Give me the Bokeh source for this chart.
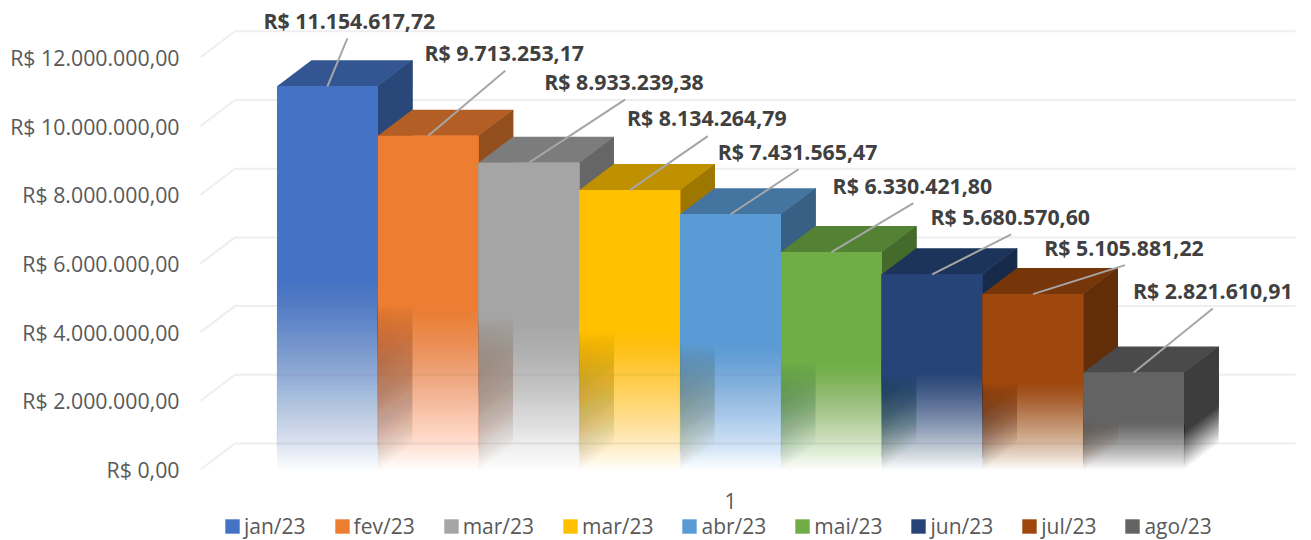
from bokeh.plotting import figure
from bokeh.models import Range1d, FixedTicker, Legend, LegendItem
from bokeh.core.properties import value
from bokeh.embed import file_html
from bokeh.resources import INLINE

# ---- data
months = ["jan/23", "fev/23", "mar/23", "mar/23", "abr/23", "mai/23", "jun/23", "jul/23", "ago/23"]
amounts = [11154617.72, 9713253.17, 8933239.38, 8134264.79, 7431565.47, 6330421.80, 5680570.60, 5105881.22, 2821610.91]
colors = ["#4472C4", "#ED7D31", "#A5A5A5", "#FFC000", "#5B9BD5", "#70AD47", "#264478", "#9E480E", "#636363"]
y_ticks = [0, 2000000, 4000000, 6000000, 8000000, 10000000, 12000000]

# ---- layout: offsets of label and leader end from the bar's top edge, in px
label_dx = [22, 76, 95, 77, 67, 81, 78, 91, 79]
label_dy = [66, 83, 81, 73, 63, 67, 58, 47, 82]
leader_dx = [20, 77, 96, 78, 68, 82, 79, 92, 79]
leader_dy = [48, 65, 63, 54, 45, 49, 40, 29, 64]
swatch_px = [225, 334, 444, 563, 682, 795, 911, 1021, 1125]

FONT = "Open Sans"
W, H = 1311, 540
PX_X = 100.8            # px per bar slot
PX_Y = 34.35 / 1e6      # px per real
BASE_PX, LEFT_PX = 469, 276.5   # page position of value 0 / of first bar
FRAME_L, FRAME_R = 198, 1300
DEPTH_X, DEPTH_Y = 34.5 / PX_X, 26 / PX_Y


def page_x(px):
    return (px - LEFT_PX) / PX_X


def page_y(px):
    return (BASE_PX - px) / PX_Y


def brl(v):
    s = f"{v:,.2f}"
    return "R$ " + s.replace(",", "#").replace(".", ",").replace("#", ".")


def shade(hex_color, f):
    c = [int(hex_color[i:i + 2], 16) for i in (1, 3, 5)]
    return "#%02x%02x%02x" % tuple(int(round(v * f)) for v in c)


def layer_alphas(n, gamma=1.0):
    """Alphas of n stacked layers so that the stack of k+1 reaches ((k+1)/n)**gamma."""
    out, prev = [], 0.0
    for k in range(n):
        a = ((k + 1) / n) ** gamma
        out.append(1.0 if a >= 1 else 1 - (1 - a) / (1 - prev))
        prev = a
    return out


p = figure(width=W, height=H, output_backend="svg", toolbar_location=None,
           x_range=Range1d(page_x(FRAME_L), page_x(FRAME_R)),
           y_range=Range1d(page_y(H), page_y(0)),
           min_border_left=FRAME_L, min_border_right=W - FRAME_R,
           min_border_top=0, min_border_bottom=0,
           outline_line_color=None)
p.grid.visible = False

# axes
p.yaxis.ticker = FixedTicker(ticks=y_ticks)
p.yaxis.major_label_overrides = {t: brl(t) for t in y_ticks}
p.yaxis.axis_line_color = None
p.yaxis.major_tick_line_color = None
p.yaxis.minor_tick_line_color = None
p.yaxis.major_label_standoff = 13
p.yaxis.major_label_text_font = FONT
p.yaxis.major_label_text_font_size = "21.3px"
p.yaxis.major_label_text_color = "#595959"

center = len(months) / 2
p.xaxis.ticker = FixedTicker(ticks=[center])
p.xaxis.major_label_overrides = {center: "1"}
p.xaxis.axis_line_color = None
p.xaxis.major_tick_line_color = None
p.xaxis.minor_tick_line_color = None
p.xaxis.major_label_standoff = 0
p.xaxis.major_label_text_font = FONT
p.xaxis.major_label_text_font_size = "21px"
p.xaxis.major_label_text_color = "#595959"
p.xaxis.fixed_location = page_y(486)

# grid of the back wall and the side wall
x_left, x_right = page_x(200), page_x(1295)
p.multi_line([[x_left, x_left + DEPTH_X, x_right] for t in y_ticks],
             [[t, t + DEPTH_Y, t + DEPTH_Y] for t in y_ticks],
             line_color="#EEEEEE", line_width=2)

legend_items = []
for i, (amount, col) in enumerate(zip(amounts, colors)):
    x0, x1 = i, i + 1

    # side wall: stacked translucent polygons, alpha adds up towards the top
    n = 40
    heights = [(k / n) * 0.4 * amount for k in range(n)]
    p.patches([[x1, x1, x1 + DEPTH_X, x1 + DEPTH_X] for h in heights],
              [[h, amount, amount + DEPTH_Y, h + DEPTH_Y] for h in heights],
              fill_color=shade(col, 0.62), fill_alpha=layer_alphas(n), line_color=None)

    # top face
    p.patches([[x0, x1, x1 + DEPTH_X, x0 + DEPTH_X]],
              [[amount, amount, amount + DEPTH_Y, amount + DEPTH_Y]],
              fill_color=shade(col, 0.75), line_color=None)

    # front face: stacked layers fading to the floor, solid in the upper half
    n = 48
    heights = [(k / n) * 0.5 * amount for k in range(n)]
    alphas = layer_alphas(n, 0.9)
    p.quad(left=x0, right=x1, bottom=heights[:-1], top=amount, fill_color=col,
           fill_alpha=alphas[:-1], line_color=None)
    solid = p.quad(left=[x0], right=[x1], bottom=[heights[-1]], top=[amount], fill_color=col, line_color=None)
    # faint outline of the fading part
    p.segment([x0, x1], [heights[6], heights[6]], [x0, x1], [heights[-1], heights[-1]],
              line_color=col, line_alpha=0.12, line_width=1)
    legend_items.append(LegendItem(label=months[i], renderers=[solid]))

# leader lines and data labels
centers = [i + 0.5 for i in range(len(amounts))]
p.multi_line([[c, c + dx / PX_X] for c, dx in zip(centers, leader_dx)],
             [[a, a + dy / PX_Y] for a, dy in zip(amounts, leader_dy)],
             line_color="#A6A6A6", line_width=2)
p.text([c + dx / PX_X for c, dx in zip(centers, label_dx)],
       [a + dy / PX_Y for a, dy in zip(amounts, label_dy)],
       text=[brl(a) for a in amounts], text_font=value(FONT), text_font_style="bold",
       text_font_size="21.3px", text_color="#404040", text_align="center", text_baseline="middle")

legend = Legend(items=legend_items, orientation="horizontal", location=(25, 0),
                glyph_width=18, glyph_height=18, label_standoff=3, spacing=27, padding=0, margin=0,
                background_fill_alpha=0, border_line_color=None,
                label_text_font=FONT, label_text_font_size="21px", label_text_color="#595959")
p.add_layout(legend)

# legend keys fade out at their lower edge, like the bars
fade_rows = [528, 529, 530, 531, 532]
fade_alpha = [0.15, 0.35, 0.55, 0.75, 0.9]
for row, a in zip(fade_rows, fade_alpha):
    p.quad(left=[page_x(s) for s in swatch_px], right=[page_x(s + 15) for s in swatch_px],
           top=page_y(row), bottom=page_y(row + 1), fill_color="white", fill_alpha=a,
           line_color=None, level="overlay")

open("out.html", "w").write(file_html(p, INLINE))
